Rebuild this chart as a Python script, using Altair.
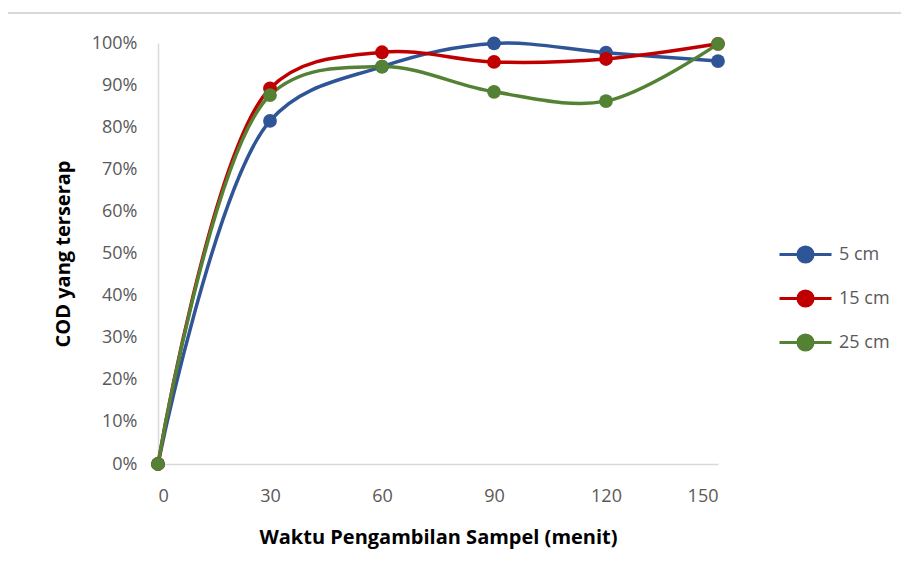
import altair as alt
import pandas as pd

waktu = [0, 30, 60, 90, 120, 150]
seri = ["5 cm", "15 cm", "25 cm"]
cod_5 = [0, 81.5, 94.4, 99.9, 97.7, 95.7]
cod_15 = [0, 89.2, 97.8, 95.5, 96.2, 99.8]
cod_25 = [0, 87.6, 94.4, 88.4, 86.2, 99.8]
warna = ["#2F5597", "#C00000", "#548235"]

rows = []
for s, vals in zip(seri, [cod_5, cod_15, cod_25]):
    for t, v in zip(waktu, vals):
        rows.append({"waktu": t, "cod": v / 100.0, "seri": s})
df = pd.DataFrame(rows)

FONT = "Open Sans"
sym_path = ("M-2,0L2,0M-0.58,0A0.58,0.58,0,1,1,0.58,0"
            "A0.58,0.58,0,1,1,-0.58,0Z")

color = alt.Color(
    "seri:N",
    scale=alt.Scale(domain=seri, range=warna),
    legend=alt.Legend(
        title=None, orient="none", legendX=633, legendY=197, padding=0,
        symbolType=sym_path, symbolSize=676, symbolStrokeWidth=3,
        labelOffset=19, rowPadding=15, labelFont=FONT, labelFontSize=18,
        labelColor="#595959", symbolOpacity=1,
    ),
)

x = alt.X("waktu:Q", scale=alt.Scale(domain=[0, 150], nice=False),
          axis=alt.Axis(values=waktu, title="Waktu Pengambilan Sampel (menit)",
                        grid=False, ticks=False, domainColor="#d9d9d9",
                        domainWidth=1.5, labelPadding=23, titlePadding=22))
y = alt.Y("cod:Q", scale=alt.Scale(domain=[0, 1], nice=False),
          axis=alt.Axis(format=".0%", values=[i / 10 for i in range(11)],
                        title="COD yang terserap", grid=False, ticks=False,
                        domainColor="#d9d9d9", domainWidth=1.5,
                        labelPadding=21, titlePadding=18))

frame = alt.Chart(df).mark_rect(
    filled=False, fillOpacity=0, stroke="#d9d9d9", strokeWidth=1.5, clip=False
).encode(
    x=alt.value(-151), x2=alt.value(760),
    y=alt.value(-30), y2=alt.value(560),
)

lines = alt.Chart(df).mark_line(
    interpolate="catmull-rom", strokeWidth=3.5,
    point=alt.OverlayMarkDef(filled=True, size=190, opacity=1),
).encode(x=x, y=y, color=color, order=alt.Order("waktu:Q"))

chart = alt.layer(lines, frame).properties(
    width=560, height=421,
    autosize=alt.AutoSizeParams(type="none"),
    padding={"left": 150, "top": 35, "right": 183, "bottom": 113},
).configure_view(stroke=None).configure_axis(
    labelFont=FONT, labelFontSize=18, labelColor="#595959",
    titleFont=FONT, titleFontSize=20, titleFontWeight="bold", titleColor="#000000",
)

chart.save("out.html", embed_options={"renderer": "svg", "actions": False})
